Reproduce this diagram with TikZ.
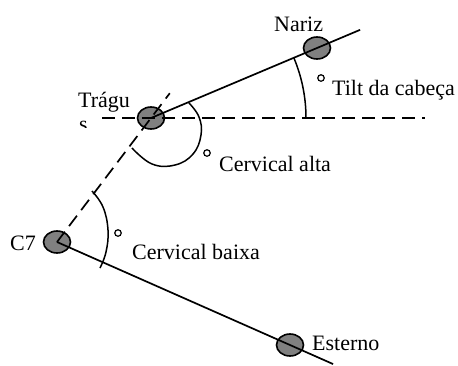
\documentclass[tikz,border=0pt]{standalone}
\usepackage{fontspec}
\setmainfont{Liberation Serif}
\usetikzlibrary{shapes.geometric,calc}
\begin{document}
\begin{tikzpicture}[x=1pt,y=-1pt,
  landmark/.style={ellipse,draw=black,line width=1.6pt,fill=black!50,minimum width=27pt,minimum height=22pt,inner sep=0pt},
  solidline/.style={line width=1.7pt},
  dashline/.style={line width=1.7pt,dash pattern=on 13pt off 7pt},
  anglearc/.style={line width=1.5pt},
  degree/.style={circle,draw=black,line width=1.2pt,minimum size=6.5pt,inner sep=0pt},
  lbl/.style={anchor=base west,inner sep=0pt,font=\fontsize{22}{26}\selectfont}]
\useasboundingbox (0,0) rectangle (458,365);
% landmarks
\node[landmark] (T) at (151,118) {};
\node[landmark] (N) at (317,48) {};
\node[landmark] (C) at (57,242) {};
\node[landmark] (E) at (290,345) {};
\coordinate (Nend) at ($(T.center)!1.26!(N.center)$);
\coordinate (Tend) at ($(C.center)!1.2!(T.center)$);
\coordinate (Eend) at ($(C.center)!1.185!(E.center)$);
\coordinate (H1) at (102,118);
\coordinate (H2) at (425,118);
% lines
\draw[dashline] (H1) -- (H2);
\draw[solidline] (T.center) -- (Nend);
\draw[dashline] (C.center) -- (Tend);
\draw[solidline] (C.center) -- (Eend);
% angle arcs
\draw[anglearc] (306,118) arc[start angle=0,end angle=-22.9,radius=155];
\draw[anglearc] plot[smooth,tension=0.7] coordinates {(189,103) (199,117) (201,135) (193,154) (175,165) (152,164) (132,148)};
\draw[anglearc] plot[smooth,tension=0.7] coordinates {(92,191) (103,207) (108,230) (106,252) (100,268)};
% degree marks
\node[degree] (d1) at (321,78) {};
\node[degree] (d2) at (207,153) {};
\node[degree] (d3) at (118,233) {};
% labels
\node[lbl] (lN) at (274,31.5) {Nariz};
\node[lbl] (lTilt) at (332,95) {Tilt da cabeça};
\node[lbl] (lT) at (78,107) {Trágu};
\begin{scope}
\clip (70,115) rectangle (95,127.5);
\node[lbl] (lS) at (79,131) {s};
\end{scope}
\node[lbl] (lCA) at (219,171.5) {Cervical alta};
\node[lbl] (lCB) at (132,259.5) {Cervical baixa};
\node[lbl] (lC7) at (10,250) {C7};
\node[lbl] (lE) at (312,350) {Esterno};
\end{tikzpicture}
\end{document}
